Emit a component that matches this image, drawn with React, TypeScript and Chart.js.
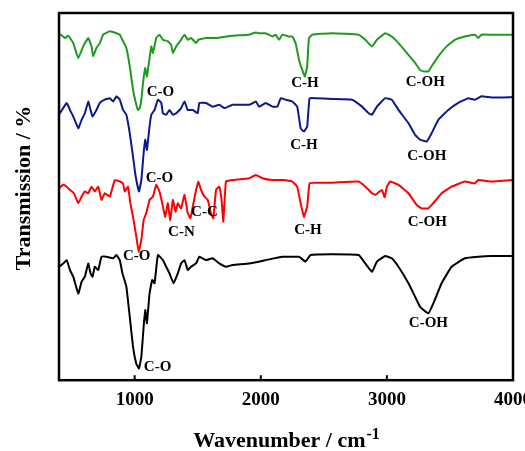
import React, { useEffect, useRef } from "react";
import { Chart, registerables } from "chart.js";

Chart.register(...registerables);

const FONT = "'Liberation Serif', 'Times New Roman', serif";

const xTicks = [1000, 2000, 3000, 4000];

const wnGreen = [400,447,474,513,553,592,632,658,671,697,724,750,803,855,882,908,934,961,987,1013,1026,1040,1053,1066,1084,1097,1118,1132,1145,1171,1197,1224,1263,1289,1303,1329,1368,1395,1421,1447,1487,1505,1526,1566,1645,1776,1908,1961,1987,2039,2092,2118,2145,2171,2224,2250,2276,2303,2329,2350,2368,2382,2408,2566,2776,2829,2882,2921,2987,3039,3092,3171,3224,3263,3289,3329,3355,3408,3474,3539,3618,3697,3724,3750,3829,4000];
const tGreen = [94.5,93.2,93.8,91.8,87.7,90.9,93.2,90.9,88.2,90.5,91.8,94.1,95.0,94.5,94.1,92.3,90.5,85.5,79.1,75.0,73.6,74.1,76.4,80.9,85.0,82.7,87.7,90.9,89.1,93.2,94.1,92.7,92.3,91.4,89.1,90.9,92.7,94.1,92.7,93.2,91.8,92.7,92.9,93.2,93.2,93.8,94.1,94.7,94.5,94.5,93.6,94.1,92.7,94.1,93.6,93.6,91.8,87.3,84.5,82.7,85.5,93.2,94.1,94.5,94.1,92.7,90.9,92.7,94.5,93.6,91.8,88.6,86.4,84.5,84.1,84.1,85.5,88.2,90.9,92.7,93.6,94.1,93.2,94.1,94.1,94.1];

const wnBlue = [400,461,487,513,553,579,605,632,650,666,697,724,763,803,829,855,882,908,934,961,987,1008,1034,1053,1071,1084,1097,1118,1132,1158,1184,1211,1224,1250,1276,1303,1329,1368,1395,1421,1461,1500,1513,1566,1618,1671,1711,1776,1908,1961,1987,2039,2092,2132,2158,2197,2250,2289,2316,2342,2368,2387,2434,2566,2724,2803,2855,2882,2921,2987,3039,3092,3171,3224,3263,3316,3355,3408,3487,3566,3645,3697,3750,3829,4000];
const tBlue = [72.3,75.5,73.6,71.8,68.6,70.9,72.7,75.9,73.6,71.8,73.6,75.5,76.4,76.8,75.9,77.3,76.4,73.6,72.3,67.3,60.9,55.5,51.4,54.5,61.8,65.5,62.7,69.1,72.3,73.6,76.4,75.5,72.7,72.3,73.6,72.3,72.7,74.1,75.9,73.6,73.6,72.7,75.5,75.5,74.5,75.0,74.1,75.0,75.0,75.9,74.5,75.5,74.5,74.5,76.8,76.4,75.9,74.5,68.6,67.7,69.1,76.8,76.8,76.6,76.4,74.5,72.7,72.3,74.5,76.8,76.4,73.6,70.0,66.8,65.5,65.0,67.3,70.9,73.6,75.5,76.8,76.4,77.3,77.0,77.1];

const wnRed = [400,434,461,487,518,553,579,605,632,658,684,711,737,763,803,842,882,908,921,947,966,987,1013,1032,1053,1071,1092,1118,1145,1171,1197,1224,1242,1263,1282,1303,1324,1342,1368,1395,1421,1442,1461,1487,1505,1526,1553,1579,1605,1624,1645,1671,1689,1703,1724,1776,1908,1961,2013,2092,2171,2250,2289,2316,2342,2368,2387,2434,2566,2776,2829,2882,2908,2961,2982,3000,3026,3092,3171,3237,3276,3329,3368,3434,3513,3618,3697,3724,3829,4000];
const tRed = [52.3,53.2,52.7,51.8,50.9,48.2,50.0,51.4,50.9,52.7,51.4,52.7,49.1,50.9,50.0,54.5,54.1,53.6,51.4,52.7,48.2,44.5,39.1,35.0,38.2,43.6,45.5,49.1,50.0,53.2,51.4,47.3,44.5,48.2,43.6,49.1,45.9,48.2,46.8,50.5,45.5,44.1,47.3,51.8,54.1,51.8,50.0,49.1,45.5,44.1,51.8,52.7,49.1,43.2,54.1,54.5,55.0,55.9,55.0,54.5,54.5,54.1,52.7,48.2,44.5,47.3,53.6,53.8,53.8,54.1,52.7,50.9,50.5,51.8,49.8,52.7,54.1,53.2,50.9,47.7,46.8,46.8,48.2,50.9,52.7,54.1,53.6,54.5,54.1,54.5];

const wnBlack = [400,434,461,487,513,553,579,605,632,650,666,684,711,737,776,829,855,882,903,934,961,987,1013,1034,1053,1071,1084,1097,1118,1139,1158,1184,1224,1250,1276,1308,1342,1368,1395,1421,1447,1487,1513,1566,1618,1671,1724,1776,1908,2039,2171,2303,2355,2395,2566,2776,2829,2882,2921,2987,3039,3092,3171,3224,3263,3329,3368,3434,3513,3618,3724,3829,4000];
const tBlack = [30.9,31.8,32.7,30.0,28.2,23.6,26.8,28.2,31.8,29.1,28.2,30.9,30.0,33.6,33.6,33.2,34.1,32.7,29.1,25.5,17.3,9.1,4.5,3.2,6.4,14.5,19.1,15.5,23.6,27.3,26.4,34.1,32.7,30.9,29.1,26.4,29.1,31.8,32.7,30.0,30.9,31.8,33.6,32.7,33.2,31.8,30.9,31.4,31.8,32.7,33.6,33.6,32.3,34.1,34.3,34.1,31.8,29.5,32.3,33.8,33.2,30.9,26.4,22.7,20.0,18.2,20.9,26.4,30.9,33.2,33.6,33.8,33.8];

const annText = ["C-O","C-H","C-OH","C-O","C-H","C-OH","C-O","C-N","C-C","C-H","C-OH","C-O","C-OH"];
const annWn = [1205,2350,3305,1197,2342,3316,1016,1371,1553,2374,3321,1182,3329];
const annT = [78.5,81,81.3,55.1,64.1,61.1,33.8,40.4,45.8,40.9,43.1,3.5,15.5];

const pts = (xs: number[], ys: number[]) => xs.map((x, i) => ({ x, y: ys[i] }));

const framePlugin = {
  id: "frame",
  afterDatasetsDraw(chart: any) {
    const { ctx, chartArea: a, scales } = chart;
    const xs = scales.x, ys = scales.y;
    ctx.save();
    ctx.fillStyle = "#000";
    ctx.font = `bold 15px ${FONT}`;
    ctx.textAlign = "center";
    ctx.textBaseline = "middle";
    annText.forEach((t, i) => {
      ctx.fillText(t, xs.getPixelForValue(annWn[i]), ys.getPixelForValue(annT[i]));
    });
    ctx.strokeStyle = "#000";
    ctx.lineWidth = 2.5;
    ctx.strokeRect(a.left, a.top, a.right - a.left, a.bottom - a.top);
    ctx.lineWidth = 2;
    xTicks.forEach((v) => {
      const px = xs.getPixelForValue(v);
      ctx.beginPath();
      ctx.moveTo(px, a.bottom);
      ctx.lineTo(px, a.bottom - 5);
      ctx.stroke();
    });
    const main = "Wavenumber / cm";
    const sup = "-1";
    ctx.font = `bold 22px ${FONT}`;
    const w1 = ctx.measureText(main).width;
    ctx.font = `bold 16px ${FONT}`;
    const w2 = ctx.measureText(sup).width;
    const cx = (a.left + a.right) / 2;
    const x0 = cx - (w1 + w2) / 2;
    ctx.textAlign = "left";
    ctx.textBaseline = "alphabetic";
    ctx.font = `bold 22px ${FONT}`;
    ctx.fillText(main, x0, 447);
    ctx.font = `bold 16px ${FONT}`;
    ctx.fillText(sup, x0 + w1 + 1, 439);
    ctx.translate(24, 188);
    ctx.rotate(-Math.PI / 2);
    ctx.font = `bold 22px ${FONT}`;
    ctx.textAlign = "center";
    ctx.textBaseline = "middle";
    ctx.fillText("Transmission / %", 0, 0);
    ctx.restore();
  },
};

export default function App() {
  const ref = useRef<HTMLCanvasElement>(null);
  useEffect(() => {
    if (!ref.current) return;
    const mk = (label: string, xs: number[], ys: number[], color: string) => ({
      label,
      data: pts(xs, ys),
      borderColor: color,
      backgroundColor: color,
      borderWidth: 2,
      pointRadius: 0,
      tension: 0.1,
      fill: false,
    });
    const chart = new Chart(ref.current, {
      type: "line",
      data: {
        datasets: [
          mk("green", wnGreen, tGreen, "#1f9a1f"),
          mk("blue", wnBlue, tBlue, "#0a1a8c"),
          mk("red", wnRed, tRed, "#ff0000"),
          mk("black", wnBlack, tBlack, "#000000"),
        ],
      },
      options: {
        animation: false,
        responsive: false,
        devicePixelRatio: 1,
        layout: { padding: { left: 59, right: 12, top: 13, bottom: 32 } },
        plugins: { legend: { display: false }, tooltip: { enabled: false } },
        scales: {
          x: {
            type: "linear",
            min: 400,
            max: 4000,
            afterBuildTicks: (s: any) => {
              s.ticks = xTicks.map((v) => ({ value: v }));
            },
            afterFit: (s: any) => {
              s.paddingLeft = 0;
              s.paddingRight = 0;
            },
            ticks: {
              color: "#000",
              font: { family: FONT, size: 19, weight: "bold" },
              padding: 8,
              maxRotation: 0,
              autoSkip: false,
              callback: (v: any) => String(v),
            },
            grid: { display: false, drawTicks: false },
            border: { display: false },
          },
          y: { min: 0, max: 100, display: false },
        },
      },
      plugins: [framePlugin],
    });
    return () => chart.destroy();
  }, []);
  return (
    <div style={{ position: "fixed", left: 0, top: 0, width: 525, height: 451, background: "#fff" }}>
      <canvas ref={ref} width={525} height={451} style={{ width: 525, height: 451 }} />
    </div>
  );
}
